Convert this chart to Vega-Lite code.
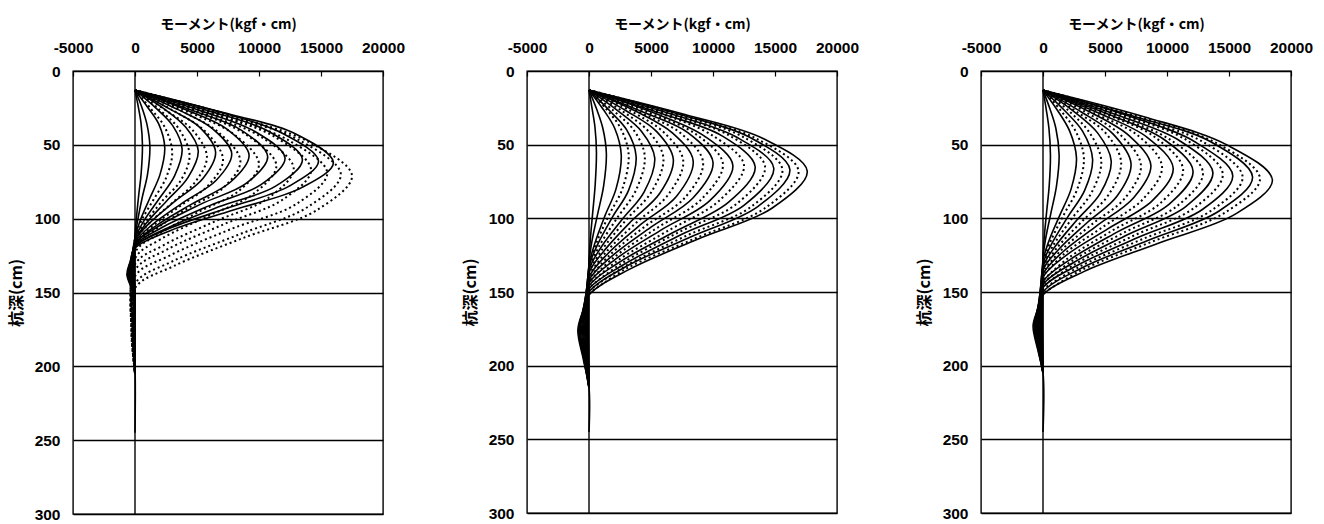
{
"$schema": "https://vega.github.io/schema/vega-lite/v6.json",
"background": "white",
"padding": {"left": 7, "top": 16, "right": 5, "bottom": 0},
"spacing": 144,
"bounds": "flush",
"config": {
 "view": {"stroke": "black", "strokeWidth": 1.4},
 "axis": {"domain": false, "labelFont": "Liberation Sans", "labelFontSize": 15.5, "labelFontWeight": "bold", "labelColor": "black", "titleFont": "Noto Sans CJK JP", "titleFontSize": 14, "titleFontWeight": "bold", "titleColor": "black", "gridColor": "black", "gridOpacity": 1, "gridWidth": 1.3, "tickColor": "black", "tickWidth": 1.2}
},
"datasets": {
 "Z": [{"d":0,"m":0},{"d":300,"m":0}],
 "As": [
{"c":1,"d":13,"m":0},{"c":1,"d":24,"m":260},{"c":1,"d":35,"m":480},{"c":1,"d":50,"m":600},{"c":1,"d":69,"m":500},{"c":1,"d":84,"m":300},{"c":1,"d":100,"m":110},{"c":1,"d":112,"m":0},{"c":1,"d":125,"m":-15},{"c":1,"d":138,"m":-25},{"c":1,"d":152,"m":-5},{"c":1,"d":175,"m":-7},{"c":1,"d":200,"m":0},
{"c":2,"d":13,"m":0},{"c":2,"d":24,"m":530},{"c":2,"d":36,"m":960},{"c":2,"d":51,"m":1200},{"c":2,"d":70,"m":1010},{"c":2,"d":85,"m":600},{"c":2,"d":101,"m":220},{"c":2,"d":113,"m":0},{"c":2,"d":126,"m":-30},{"c":2,"d":138,"m":-50},{"c":2,"d":152,"m":-10},{"c":2,"d":175,"m":-15},{"c":2,"d":200,"m":0},
{"c":3,"d":13,"m":0},{"c":3,"d":25,"m":1060},{"c":3,"d":36,"m":1920},{"c":3,"d":52,"m":2400},{"c":3,"d":70,"m":2020},{"c":3,"d":86,"m":1200},{"c":3,"d":101,"m":430},{"c":3,"d":113,"m":0},{"c":3,"d":126,"m":-60},{"c":3,"d":138,"m":-100},{"c":3,"d":152,"m":-15},{"c":3,"d":175,"m":-30},{"c":3,"d":200,"m":0},
{"c":4,"d":13,"m":0},{"c":4,"d":25,"m":1670},{"c":4,"d":37,"m":3040},{"c":4,"d":53,"m":3800},{"c":4,"d":71,"m":3190},{"c":4,"d":87,"m":1900},{"c":4,"d":102,"m":680},{"c":4,"d":114,"m":0},{"c":4,"d":126,"m":-90},{"c":4,"d":138,"m":-150},{"c":4,"d":152,"m":-20},{"c":4,"d":175,"m":-45},{"c":4,"d":200,"m":0},
{"c":5,"d":13,"m":0},{"c":5,"d":25,"m":2240},{"c":5,"d":38,"m":4080},{"c":5,"d":54,"m":5100},{"c":5,"d":72,"m":4280},{"c":5,"d":88,"m":2550},{"c":5,"d":103,"m":920},{"c":5,"d":115,"m":0},{"c":5,"d":127,"m":-120},{"c":5,"d":138,"m":-210},{"c":5,"d":152,"m":-30},{"c":5,"d":175,"m":-60},{"c":5,"d":200,"m":0},
{"c":6,"d":13,"m":0},{"c":6,"d":26,"m":2860},{"c":6,"d":38,"m":5200},{"c":6,"d":55,"m":6500},{"c":6,"d":73,"m":5460},{"c":6,"d":88,"m":3250},{"c":6,"d":103,"m":1170},{"c":6,"d":115,"m":0},{"c":6,"d":127,"m":-160},{"c":6,"d":138,"m":-260},{"c":6,"d":152,"m":-40},{"c":6,"d":175,"m":-80},{"c":6,"d":200,"m":0},
{"c":7,"d":13,"m":0},{"c":7,"d":26,"m":3430},{"c":7,"d":39,"m":6240},{"c":7,"d":56,"m":7800},{"c":7,"d":74,"m":6550},{"c":7,"d":89,"m":3900},{"c":7,"d":104,"m":1400},{"c":7,"d":116,"m":0},{"c":7,"d":127,"m":-190},{"c":7,"d":138,"m":-320},{"c":7,"d":152,"m":-50},{"c":7,"d":175,"m":-95},{"c":7,"d":200,"m":0},
{"c":8,"d":13,"m":0},{"c":8,"d":26,"m":4050},{"c":8,"d":39,"m":7360},{"c":8,"d":57,"m":9200},{"c":8,"d":75,"m":7730},{"c":8,"d":90,"m":4600},{"c":8,"d":105,"m":1660},{"c":8,"d":117,"m":0},{"c":8,"d":128,"m":-220},{"c":8,"d":138,"m":-370},{"c":8,"d":152,"m":-55},{"c":8,"d":175,"m":-110},{"c":8,"d":200,"m":0},
{"c":9,"d":13,"m":0},{"c":9,"d":27,"m":4710},{"c":9,"d":40,"m":8560},{"c":9,"d":58,"m":10700},{"c":9,"d":76,"m":8990},{"c":9,"d":90,"m":5350},{"c":9,"d":105,"m":1930},{"c":9,"d":117,"m":0},{"c":9,"d":128,"m":-260},{"c":9,"d":138,"m":-440},{"c":9,"d":152,"m":-65},{"c":9,"d":175,"m":-130},{"c":9,"d":200,"m":0},
{"c":10,"d":13,"m":0},{"c":10,"d":27,"m":5320},{"c":10,"d":41,"m":9680},{"c":10,"d":59,"m":12100},{"c":10,"d":77,"m":10160},{"c":10,"d":91,"m":6050},{"c":10,"d":106,"m":2180},{"c":10,"d":118,"m":0},{"c":10,"d":128,"m":-290},{"c":10,"d":138,"m":-490},{"c":10,"d":152,"m":-75},{"c":10,"d":175,"m":-150},{"c":10,"d":200,"m":0},
{"c":11,"d":13,"m":0},{"c":11,"d":27,"m":5940},{"c":11,"d":41,"m":10800},{"c":11,"d":60,"m":13500},{"c":11,"d":78,"m":11340},{"c":11,"d":92,"m":6750},{"c":11,"d":107,"m":2430},{"c":11,"d":119,"m":0},{"c":11,"d":129,"m":-330},{"c":11,"d":138,"m":-550},{"c":11,"d":152,"m":-80},{"c":11,"d":175,"m":-165},{"c":11,"d":200,"m":0},
{"c":12,"d":13,"m":0},{"c":12,"d":27,"m":6510},{"c":12,"d":42,"m":11840},{"c":12,"d":61,"m":14800},{"c":12,"d":78,"m":12430},{"c":12,"d":93,"m":7400},{"c":12,"d":107,"m":2660},{"c":12,"d":119,"m":0},{"c":12,"d":129,"m":-360},{"c":12,"d":138,"m":-600},{"c":12,"d":152,"m":-90},{"c":12,"d":175,"m":-180},{"c":12,"d":200,"m":0},
{"c":13,"d":13,"m":0},{"c":13,"d":28,"m":7040},{"c":13,"d":42,"m":12800},{"c":13,"d":62,"m":16000},{"c":13,"d":79,"m":13440},{"c":13,"d":94,"m":8000},{"c":13,"d":108,"m":2880},{"c":13,"d":120,"m":0},{"c":13,"d":129,"m":-390},{"c":13,"d":138,"m":-650},{"c":13,"d":152,"m":-100},{"c":13,"d":175,"m":-200},{"c":13,"d":200,"m":0},{"c":13,"d":245,"m":0}
 ],
 "Ad": [
{"c":1,"d":13,"m":0},{"c":1,"d":26,"m":1320},{"c":1,"d":38,"m":2400},{"c":1,"d":55,"m":3000},{"c":1,"d":72,"m":2520},{"c":1,"d":87,"m":1500},{"c":1,"d":101,"m":540},{"c":1,"d":113,"m":0},{"c":1,"d":175,"m":-50},{"c":1,"d":205,"m":0},
{"c":2,"d":13,"m":0},{"c":2,"d":26,"m":1940},{"c":2,"d":39,"m":3520},{"c":2,"d":57,"m":4400},{"c":2,"d":74,"m":3700},{"c":2,"d":88,"m":2200},{"c":2,"d":103,"m":790},{"c":2,"d":114,"m":0},{"c":2,"d":175,"m":-80},{"c":2,"d":205,"m":0},
{"c":3,"d":13,"m":0},{"c":3,"d":27,"m":2550},{"c":3,"d":40,"m":4640},{"c":3,"d":58,"m":5800},{"c":3,"d":75,"m":4870},{"c":3,"d":90,"m":2900},{"c":3,"d":104,"m":1040},{"c":3,"d":116,"m":0},{"c":3,"d":175,"m":-100},{"c":3,"d":205,"m":0},
{"c":4,"d":13,"m":0},{"c":4,"d":27,"m":3120},{"c":4,"d":41,"m":5680},{"c":4,"d":60,"m":7100},{"c":4,"d":77,"m":5960},{"c":4,"d":92,"m":3550},{"c":4,"d":106,"m":1280},{"c":4,"d":118,"m":0},{"c":4,"d":175,"m":-120},{"c":4,"d":205,"m":0},
{"c":5,"d":13,"m":0},{"c":5,"d":27,"m":3740},{"c":5,"d":42,"m":6800},{"c":5,"d":61,"m":8500},{"c":5,"d":79,"m":7140},{"c":5,"d":93,"m":4250},{"c":5,"d":108,"m":1530},{"c":5,"d":120,"m":0},{"c":5,"d":175,"m":-150},{"c":5,"d":205,"m":0},
{"c":6,"d":13,"m":0},{"c":6,"d":28,"m":4400},{"c":6,"d":43,"m":8000},{"c":6,"d":63,"m":10000},{"c":6,"d":81,"m":8400},{"c":6,"d":96,"m":5000},{"c":6,"d":111,"m":1800},{"c":6,"d":123,"m":0},{"c":6,"d":175,"m":-170},{"c":6,"d":205,"m":0},
{"c":7,"d":13,"m":0},{"c":7,"d":28,"m":5020},{"c":7,"d":44,"m":9120},{"c":7,"d":64,"m":11400},{"c":7,"d":83,"m":9580},{"c":7,"d":99,"m":5700},{"c":7,"d":114,"m":2050},{"c":7,"d":127,"m":0},{"c":7,"d":175,"m":-200},{"c":7,"d":205,"m":0},
{"c":8,"d":13,"m":0},{"c":8,"d":29,"m":5630},{"c":8,"d":45,"m":10240},{"c":8,"d":66,"m":12800},{"c":8,"d":86,"m":10750},{"c":8,"d":102,"m":6400},{"c":8,"d":118,"m":2300},{"c":8,"d":131,"m":0},{"c":8,"d":175,"m":-220},{"c":8,"d":205,"m":0},
{"c":9,"d":13,"m":0},{"c":9,"d":29,"m":6250},{"c":9,"d":45,"m":11360},{"c":9,"d":67,"m":14200},{"c":9,"d":87,"m":11930},{"c":9,"d":104,"m":7100},{"c":9,"d":121,"m":2560},{"c":9,"d":135,"m":0},{"c":9,"d":175,"m":-240},{"c":9,"d":205,"m":0},
{"c":10,"d":13,"m":0},{"c":10,"d":30,"m":6820},{"c":10,"d":47,"m":12400},{"c":10,"d":69,"m":15500},{"c":10,"d":90,"m":13020},{"c":10,"d":107,"m":7750},{"c":10,"d":125,"m":2790},{"c":10,"d":139,"m":0},{"c":10,"d":175,"m":-270},{"c":10,"d":205,"m":0},
{"c":11,"d":13,"m":0},{"c":11,"d":30,"m":7300},{"c":11,"d":47,"m":13280},{"c":11,"d":70,"m":16600},{"c":11,"d":92,"m":13940},{"c":11,"d":111,"m":8300},{"c":11,"d":129,"m":2990},{"c":11,"d":144,"m":0},{"c":11,"d":175,"m":-280},{"c":11,"d":205,"m":0},
{"c":12,"d":13,"m":0},{"c":12,"d":30,"m":7700},{"c":12,"d":48,"m":14000},{"c":12,"d":71,"m":17500},{"c":12,"d":94,"m":14700},{"c":12,"d":113,"m":8750},{"c":12,"d":132,"m":3150},{"c":12,"d":147,"m":0},{"c":12,"d":175,"m":-300},{"c":12,"d":205,"m":0}
 ],
 "Bs": [
{"c":1,"d":13,"m":0},{"c":1,"d":26,"m":260},{"c":1,"d":38,"m":480},{"c":1,"d":55,"m":600},{"c":1,"d":77,"m":500},{"c":1,"d":96,"m":300},{"c":1,"d":114,"m":110},{"c":1,"d":129,"m":0},{"c":1,"d":153,"m":-20},{"c":1,"d":176,"m":-30},{"c":1,"d":196,"m":-15},{"c":1,"d":215,"m":0},
{"c":2,"d":13,"m":0},{"c":2,"d":26,"m":620},{"c":2,"d":39,"m":1120},{"c":2,"d":56,"m":1400},{"c":2,"d":78,"m":1180},{"c":2,"d":97,"m":700},{"c":2,"d":115,"m":250},{"c":2,"d":130,"m":0},{"c":2,"d":153,"m":-40},{"c":2,"d":176,"m":-70},{"c":2,"d":196,"m":-35},{"c":2,"d":215,"m":0},
{"c":3,"d":13,"m":0},{"c":3,"d":26,"m":1140},{"c":3,"d":39,"m":2080},{"c":3,"d":57,"m":2600},{"c":3,"d":80,"m":2180},{"c":3,"d":98,"m":1300},{"c":3,"d":117,"m":470},{"c":3,"d":132,"m":0},{"c":3,"d":154,"m":-80},{"c":3,"d":176,"m":-130},{"c":3,"d":196,"m":-65},{"c":3,"d":215,"m":0},
{"c":4,"d":13,"m":0},{"c":4,"d":27,"m":1670},{"c":4,"d":40,"m":3040},{"c":4,"d":58,"m":3800},{"c":4,"d":81,"m":3190},{"c":4,"d":99,"m":1900},{"c":4,"d":118,"m":680},{"c":4,"d":133,"m":0},{"c":4,"d":155,"m":-120},{"c":4,"d":176,"m":-190},{"c":4,"d":196,"m":-100},{"c":4,"d":215,"m":0},
{"c":5,"d":13,"m":0},{"c":5,"d":27,"m":2330},{"c":5,"d":41,"m":4240},{"c":5,"d":59,"m":5300},{"c":5,"d":82,"m":4450},{"c":5,"d":101,"m":2650},{"c":5,"d":120,"m":950},{"c":5,"d":135,"m":0},{"c":5,"d":156,"m":-160},{"c":5,"d":176,"m":-270},{"c":5,"d":196,"m":-140},{"c":5,"d":215,"m":0},
{"c":6,"d":13,"m":0},{"c":6,"d":27,"m":2990},{"c":6,"d":41,"m":5440},{"c":6,"d":60,"m":6800},{"c":6,"d":83,"m":5710},{"c":6,"d":102,"m":3400},{"c":6,"d":122,"m":1220},{"c":6,"d":137,"m":0},{"c":6,"d":157,"m":-210},{"c":6,"d":176,"m":-350},{"c":6,"d":196,"m":-170},{"c":6,"d":215,"m":0},
{"c":7,"d":13,"m":0},{"c":7,"d":27,"m":3700},{"c":7,"d":42,"m":6720},{"c":7,"d":61,"m":8400},{"c":7,"d":85,"m":7060},{"c":7,"d":104,"m":4200},{"c":7,"d":124,"m":1510},{"c":7,"d":140,"m":0},{"c":7,"d":158,"m":-260},{"c":7,"d":176,"m":-430},{"c":7,"d":196,"m":-210},{"c":7,"d":215,"m":0},
{"c":8,"d":13,"m":0},{"c":8,"d":28,"m":4400},{"c":8,"d":42,"m":8000},{"c":8,"d":62,"m":10000},{"c":8,"d":86,"m":8400},{"c":8,"d":106,"m":5000},{"c":8,"d":126,"m":1800},{"c":8,"d":142,"m":0},{"c":8,"d":159,"m":-310},{"c":8,"d":176,"m":-510},{"c":8,"d":196,"m":-260},{"c":8,"d":215,"m":0},
{"c":9,"d":13,"m":0},{"c":9,"d":28,"m":5100},{"c":9,"d":44,"m":9280},{"c":9,"d":64,"m":11600},{"c":9,"d":88,"m":9740},{"c":9,"d":108,"m":5800},{"c":9,"d":128,"m":2090},{"c":9,"d":144,"m":0},{"c":9,"d":160,"m":-360},{"c":9,"d":176,"m":-590},{"c":9,"d":196,"m":-300},{"c":9,"d":215,"m":0},
{"c":10,"d":13,"m":0},{"c":10,"d":29,"m":5900},{"c":10,"d":44,"m":10720},{"c":10,"d":65,"m":13400},{"c":10,"d":89,"m":11260},{"c":10,"d":110,"m":6700},{"c":10,"d":130,"m":2410},{"c":10,"d":146,"m":0},{"c":10,"d":161,"m":-410},{"c":10,"d":176,"m":-690},{"c":10,"d":196,"m":-340},{"c":10,"d":215,"m":0},
{"c":11,"d":13,"m":0},{"c":11,"d":29,"m":6560},{"c":11,"d":45,"m":11920},{"c":11,"d":66,"m":14900},{"c":11,"d":91,"m":12520},{"c":11,"d":111,"m":7450},{"c":11,"d":132,"m":2680},{"c":11,"d":148,"m":0},{"c":11,"d":162,"m":-460},{"c":11,"d":176,"m":-760},{"c":11,"d":196,"m":-380},{"c":11,"d":215,"m":0},
{"c":12,"d":13,"m":0},{"c":12,"d":29,"m":7130},{"c":12,"d":45,"m":12960},{"c":12,"d":67,"m":16200},{"c":12,"d":92,"m":13610},{"c":12,"d":113,"m":8100},{"c":12,"d":133,"m":2920},{"c":12,"d":150,"m":0},{"c":12,"d":163,"m":-500},{"c":12,"d":176,"m":-830},{"c":12,"d":196,"m":-410},{"c":12,"d":215,"m":0},
{"c":13,"d":13,"m":0},{"c":13,"d":29.5,"m":7740},{"c":13,"d":46,"m":14080},{"c":13,"d":68,"m":17600},{"c":13,"d":93,"m":14780},{"c":13,"d":114,"m":8800},{"c":13,"d":135,"m":3170},{"c":13,"d":152,"m":0},{"c":13,"d":164,"m":-540},{"c":13,"d":176,"m":-900},{"c":13,"d":196,"m":-450},{"c":13,"d":215,"m":0},{"c":13,"d":245,"m":0}
 ],
 "Bd": [
{"c":1,"d":13,"m":0},{"c":1,"d":26,"m":1410},{"c":1,"d":39,"m":2560},{"c":1,"d":57,"m":3200},{"c":1,"d":80,"m":2690},{"c":1,"d":98,"m":1600},{"c":1,"d":117,"m":580},{"c":1,"d":132,"m":0},
{"c":2,"d":13,"m":0},{"c":2,"d":27,"m":1980},{"c":2,"d":40,"m":3600},{"c":2,"d":58,"m":4500},{"c":2,"d":81,"m":3780},{"c":2,"d":100,"m":2250},{"c":2,"d":119,"m":810},{"c":2,"d":134,"m":0},
{"c":3,"d":13,"m":0},{"c":3,"d":27,"m":2640},{"c":3,"d":41,"m":4800},{"c":3,"d":59,"m":6000},{"c":3,"d":82,"m":5040},{"c":3,"d":101,"m":3000},{"c":3,"d":121,"m":1080},{"c":3,"d":136,"m":0},
{"c":4,"d":13,"m":0},{"c":4,"d":27,"m":3340},{"c":4,"d":42,"m":6080},{"c":4,"d":61,"m":7600},{"c":4,"d":84,"m":6380},{"c":4,"d":103,"m":3800},{"c":4,"d":123,"m":1370},{"c":4,"d":138,"m":0},
{"c":5,"d":13,"m":0},{"c":5,"d":28,"m":4050},{"c":5,"d":42,"m":7360},{"c":5,"d":62,"m":9200},{"c":5,"d":86,"m":7730},{"c":5,"d":105,"m":4600},{"c":5,"d":125,"m":1660},{"c":5,"d":141,"m":0},
{"c":6,"d":13,"m":0},{"c":6,"d":28,"m":4750},{"c":6,"d":43,"m":8640},{"c":6,"d":63,"m":10800},{"c":6,"d":87,"m":9070},{"c":6,"d":107,"m":5400},{"c":6,"d":127,"m":1940},{"c":6,"d":143,"m":0},
{"c":7,"d":13,"m":0},{"c":7,"d":28,"m":5500},{"c":7,"d":44,"m":10000},{"c":7,"d":64,"m":12500},{"c":7,"d":88,"m":10500},{"c":7,"d":109,"m":6250},{"c":7,"d":129,"m":2250},{"c":7,"d":145,"m":0},
{"c":8,"d":13,"m":0},{"c":8,"d":29,"m":6250},{"c":8,"d":44,"m":11360},{"c":8,"d":65,"m":14200},{"c":8,"d":90,"m":11930},{"c":8,"d":110,"m":7100},{"c":8,"d":131,"m":2560},{"c":8,"d":147,"m":0},
{"c":9,"d":13,"m":0},{"c":9,"d":29,"m":6860},{"c":9,"d":45,"m":12480},{"c":9,"d":67,"m":15600},{"c":9,"d":92,"m":13100},{"c":9,"d":112,"m":7800},{"c":9,"d":133,"m":2810},{"c":9,"d":149,"m":0},
{"c":10,"d":13,"m":0},{"c":10,"d":29.5,"m":7440},{"c":10,"d":46,"m":13520},{"c":10,"d":68,"m":16900},{"c":10,"d":93,"m":14200},{"c":10,"d":114,"m":8450},{"c":10,"d":134,"m":3040},{"c":10,"d":151,"m":0}
 ],
 "Cs": [
{"c":1,"d":13,"m":0},{"c":1,"d":26,"m":260},{"c":1,"d":39,"m":480},{"c":1,"d":57,"m":600},{"c":1,"d":78,"m":500},{"c":1,"d":95,"m":300},{"c":1,"d":112,"m":110},{"c":1,"d":126,"m":0},{"c":1,"d":150,"m":-15},{"c":1,"d":173,"m":-25},{"c":1,"d":190,"m":-10},{"c":1,"d":205,"m":0},
{"c":2,"d":13,"m":0},{"c":2,"d":26,"m":570},{"c":2,"d":39,"m":1040},{"c":2,"d":57,"m":1300},{"c":2,"d":78,"m":1090},{"c":2,"d":96,"m":650},{"c":2,"d":113,"m":230},{"c":2,"d":127,"m":0},{"c":2,"d":150,"m":-30},{"c":2,"d":173,"m":-55},{"c":2,"d":190,"m":-30},{"c":2,"d":205,"m":0},
{"c":3,"d":13,"m":0},{"c":3,"d":27,"m":1190},{"c":3,"d":41,"m":2160},{"c":3,"d":59,"m":2700},{"c":3,"d":80,"m":2270},{"c":3,"d":98,"m":1350},{"c":3,"d":115,"m":490},{"c":3,"d":129,"m":0},{"c":3,"d":151,"m":-70},{"c":3,"d":173,"m":-120},{"c":3,"d":190,"m":-60},{"c":3,"d":205,"m":0},
{"c":4,"d":13,"m":0},{"c":4,"d":27,"m":1760},{"c":4,"d":41,"m":3200},{"c":4,"d":60,"m":4000},{"c":4,"d":81,"m":3360},{"c":4,"d":99,"m":2000},{"c":4,"d":117,"m":720},{"c":4,"d":131,"m":0},{"c":4,"d":152,"m":-100},{"c":4,"d":173,"m":-170},{"c":4,"d":190,"m":-90},{"c":4,"d":205,"m":0},
{"c":5,"d":13,"m":0},{"c":5,"d":27,"m":2420},{"c":5,"d":42,"m":4400},{"c":5,"d":61,"m":5500},{"c":5,"d":83,"m":4620},{"c":5,"d":101,"m":2750},{"c":5,"d":119,"m":990},{"c":5,"d":133,"m":0},{"c":5,"d":153,"m":-140},{"c":5,"d":173,"m":-240},{"c":5,"d":190,"m":-120},{"c":5,"d":205,"m":0},
{"c":6,"d":13,"m":0},{"c":6,"d":28,"m":3120},{"c":6,"d":43,"m":5680},{"c":6,"d":63,"m":7100},{"c":6,"d":85,"m":5960},{"c":6,"d":103,"m":3550},{"c":6,"d":121,"m":1280},{"c":6,"d":135,"m":0},{"c":6,"d":154,"m":-180},{"c":6,"d":173,"m":-310},{"c":6,"d":190,"m":-150},{"c":6,"d":205,"m":0},
{"c":7,"d":13,"m":0},{"c":7,"d":28,"m":3830},{"c":7,"d":44,"m":6960},{"c":7,"d":64,"m":8700},{"c":7,"d":86,"m":7310},{"c":7,"d":105,"m":4350},{"c":7,"d":123,"m":1570},{"c":7,"d":138,"m":0},{"c":7,"d":156,"m":-230},{"c":7,"d":173,"m":-380},{"c":7,"d":190,"m":-190},{"c":7,"d":205,"m":0},
{"c":8,"d":13,"m":0},{"c":8,"d":29,"m":4620},{"c":8,"d":45,"m":8400},{"c":8,"d":66,"m":10500},{"c":8,"d":88,"m":8820},{"c":8,"d":107,"m":5250},{"c":8,"d":125,"m":1890},{"c":8,"d":140,"m":0},{"c":8,"d":157,"m":-270},{"c":8,"d":173,"m":-450},{"c":8,"d":190,"m":-230},{"c":8,"d":205,"m":0},
{"c":9,"d":13,"m":0},{"c":9,"d":29.5,"m":5320},{"c":9,"d":46,"m":9680},{"c":9,"d":68,"m":12100},{"c":9,"d":90.5,"m":10160},{"c":9,"d":109,"m":6050},{"c":9,"d":128,"m":2180},{"c":9,"d":143,"m":0},{"c":9,"d":158,"m":-310},{"c":9,"d":173,"m":-520},{"c":9,"d":190,"m":-260},{"c":9,"d":205,"m":0},
{"c":10,"d":13,"m":0},{"c":10,"d":30,"m":6030},{"c":10,"d":47,"m":10960},{"c":10,"d":69,"m":13700},{"c":10,"d":92,"m":11510},{"c":10,"d":111,"m":6850},{"c":10,"d":130,"m":2470},{"c":10,"d":145,"m":0},{"c":10,"d":159,"m":-360},{"c":10,"d":173,"m":-590},{"c":10,"d":190,"m":-300},{"c":10,"d":205,"m":0},
{"c":11,"d":13,"m":0},{"c":11,"d":30,"m":6730},{"c":11,"d":48,"m":12240},{"c":11,"d":71,"m":15300},{"c":11,"d":94,"m":12850},{"c":11,"d":113,"m":7650},{"c":11,"d":132,"m":2750},{"c":11,"d":147,"m":0},{"c":11,"d":160,"m":-400},{"c":11,"d":173,"m":-660},{"c":11,"d":190,"m":-330},{"c":11,"d":205,"m":0},
{"c":12,"d":13,"m":0},{"c":12,"d":31,"m":7440},{"c":12,"d":48,"m":13520},{"c":12,"d":72,"m":16900},{"c":12,"d":95,"m":14200},{"c":12,"d":115,"m":8450},{"c":12,"d":134,"m":3040},{"c":12,"d":150,"m":0},{"c":12,"d":162,"m":-440},{"c":12,"d":173,"m":-730},{"c":12,"d":190,"m":-370},{"c":12,"d":205,"m":0},
{"c":13,"d":13,"m":0},{"c":13,"d":31,"m":8140},{"c":13,"d":50,"m":14800},{"c":13,"d":74,"m":18500},{"c":13,"d":97,"m":15540},{"c":13,"d":117,"m":9250},{"c":13,"d":136,"m":3330},{"c":13,"d":152,"m":0},{"c":13,"d":163,"m":-480},{"c":13,"d":173,"m":-800},{"c":13,"d":190,"m":-400},{"c":13,"d":205,"m":0},{"c":13,"d":245,"m":0}
 ],
 "Cd": [
{"c":1,"d":13,"m":0},{"c":1,"d":27,"m":1450},{"c":1,"d":41,"m":2640},{"c":1,"d":59,"m":3300},{"c":1,"d":80,"m":2770},{"c":1,"d":98,"m":1650},{"c":1,"d":116,"m":590},{"c":1,"d":130,"m":0},
{"c":2,"d":13,"m":0},{"c":2,"d":27,"m":2070},{"c":2,"d":42,"m":3760},{"c":2,"d":61,"m":4700},{"c":2,"d":82,"m":3950},{"c":2,"d":100,"m":2350},{"c":2,"d":118,"m":850},{"c":2,"d":132,"m":0},
{"c":3,"d":13,"m":0},{"c":3,"d":28,"m":2770},{"c":3,"d":42,"m":5040},{"c":3,"d":62,"m":6300},{"c":3,"d":84,"m":5290},{"c":3,"d":102,"m":3150},{"c":3,"d":120,"m":1130},{"c":3,"d":134,"m":0},
{"c":4,"d":13,"m":0},{"c":4,"d":28,"m":3480},{"c":4,"d":44,"m":6320},{"c":4,"d":64,"m":7900},{"c":4,"d":86,"m":6640},{"c":4,"d":104,"m":3950},{"c":4,"d":122,"m":1420},{"c":4,"d":136,"m":0},
{"c":5,"d":13,"m":0},{"c":5,"d":29,"m":4220},{"c":5,"d":44,"m":7680},{"c":5,"d":65,"m":9600},{"c":5,"d":87,"m":8060},{"c":5,"d":106,"m":4800},{"c":5,"d":124,"m":1730},{"c":5,"d":139,"m":0},
{"c":6,"d":13,"m":0},{"c":6,"d":29,"m":4970},{"c":6,"d":45,"m":9040},{"c":6,"d":67,"m":11300},{"c":6,"d":89.5,"m":9490},{"c":6,"d":108,"m":5650},{"c":6,"d":127,"m":2030},{"c":6,"d":142,"m":0},
{"c":7,"d":13,"m":0},{"c":7,"d":30,"m":5680},{"c":7,"d":47,"m":10320},{"c":7,"d":69,"m":12900},{"c":7,"d":91.5,"m":10840},{"c":7,"d":110,"m":6450},{"c":7,"d":129,"m":2320},{"c":7,"d":144,"m":0},
{"c":8,"d":13,"m":0},{"c":8,"d":30,"m":6380},{"c":8,"d":47,"m":11600},{"c":8,"d":70,"m":14500},{"c":8,"d":93,"m":12180},{"c":8,"d":112,"m":7250},{"c":8,"d":131,"m":2610},{"c":8,"d":146,"m":0},
{"c":9,"d":13,"m":0},{"c":9,"d":31,"m":7080},{"c":9,"d":48,"m":12880},{"c":9,"d":72,"m":16100},{"c":9,"d":95,"m":13520},{"c":9,"d":114,"m":8050},{"c":9,"d":133,"m":2900},{"c":9,"d":148,"m":0},
{"c":10,"d":13,"m":0},{"c":10,"d":31,"m":7700},{"c":10,"d":49,"m":14000},{"c":10,"d":73,"m":17500},{"c":10,"d":96,"m":14700},{"c":10,"d":116,"m":8750},{"c":10,"d":135,"m":3150},{"c":10,"d":151,"m":0}
 ]
},
"hconcat": [
 {
  "width": 310, "height": 443,
  "encoding": {
   "x": {"field": "m", "type": "quantitative", "title": "モーメント(kgf・cm)", "scale": {"domain": [-5000, 20000], "nice": false, "zero": false}, "axis": {"orient": "top", "values": [-5000, 0, 5000, 10000, 15000, 20000], "labelFlush": false, "grid": false, "tickSize": -5, "labelPadding": 21, "titlePadding": 9, "labelExpr": "'' + datum.value"}},
   "y": {"field": "d", "type": "quantitative", "title": "杭深(cm)", "scale": {"domain": [0, 300], "reverse": true, "nice": false, "zero": false}, "axis": {"values": [0, 50, 100, 150, 200, 250, 300], "grid": true, "ticks": false, "labelPadding": 13, "titlePadding": 10, "titleFontSize": 16}},
   "detail": {"field": "c", "type": "nominal"},
   "order": {"field": "d", "type": "quantitative"}
  },
  "layer": [
   {"data": {"name": "Z"}, "mark": {"type": "line", "color": "black", "strokeWidth": 1.4}},
   {"data": {"name": "As"}, "mark": {"type": "line", "color": "black", "strokeWidth": 1.6, "interpolate": "catmull-rom"}},
   {"data": {"name": "Ad"}, "mark": {"type": "line", "color": "black", "strokeWidth": 2, "strokeDash": [2, 3], "interpolate": "catmull-rom"}}
  ]
 },
 {
  "width": 310, "height": 442,
  "encoding": {
   "x": {"field": "m", "type": "quantitative", "title": "モーメント(kgf・cm)", "scale": {"domain": [-5000, 20000], "nice": false, "zero": false}, "axis": {"orient": "top", "values": [-5000, 0, 5000, 10000, 15000, 20000], "labelFlush": false, "grid": false, "tickSize": -5, "labelPadding": 21, "titlePadding": 9, "labelExpr": "'' + datum.value"}},
   "y": {"field": "d", "type": "quantitative", "title": "杭深(cm)", "scale": {"domain": [0, 300], "reverse": true, "nice": false, "zero": false}, "axis": {"values": [0, 50, 100, 150, 200, 250, 300], "grid": true, "ticks": false, "labelPadding": 13, "titlePadding": 10, "titleFontSize": 16}},
   "detail": {"field": "c", "type": "nominal"},
   "order": {"field": "d", "type": "quantitative"}
  },
  "layer": [
   {"data": {"name": "Z"}, "mark": {"type": "line", "color": "black", "strokeWidth": 1.4}},
   {"data": {"name": "Bs"}, "mark": {"type": "line", "color": "black", "strokeWidth": 1.6, "interpolate": "catmull-rom"}},
   {"data": {"name": "Bd"}, "mark": {"type": "line", "color": "black", "strokeWidth": 2, "strokeDash": [2, 3], "interpolate": "catmull-rom"}}
  ]
 },
 {
  "width": 310, "height": 442,
  "encoding": {
   "x": {"field": "m", "type": "quantitative", "title": "モーメント(kgf・cm)", "scale": {"domain": [-5000, 20000], "nice": false, "zero": false}, "axis": {"orient": "top", "values": [-5000, 0, 5000, 10000, 15000, 20000], "labelFlush": false, "grid": false, "tickSize": -5, "labelPadding": 21, "titlePadding": 9, "labelExpr": "'' + datum.value"}},
   "y": {"field": "d", "type": "quantitative", "title": "杭深(cm)", "scale": {"domain": [0, 300], "reverse": true, "nice": false, "zero": false}, "axis": {"values": [0, 50, 100, 150, 200, 250, 300], "grid": true, "ticks": false, "labelPadding": 13, "titlePadding": 10, "titleFontSize": 16}},
   "detail": {"field": "c", "type": "nominal"},
   "order": {"field": "d", "type": "quantitative"}
  },
  "layer": [
   {"data": {"name": "Z"}, "mark": {"type": "line", "color": "black", "strokeWidth": 1.4}},
   {"data": {"name": "Cs"}, "mark": {"type": "line", "color": "black", "strokeWidth": 1.6, "interpolate": "catmull-rom"}},
   {"data": {"name": "Cd"}, "mark": {"type": "line", "color": "black", "strokeWidth": 2, "strokeDash": [2, 3], "interpolate": "catmull-rom"}}
  ]
 }
]
}
